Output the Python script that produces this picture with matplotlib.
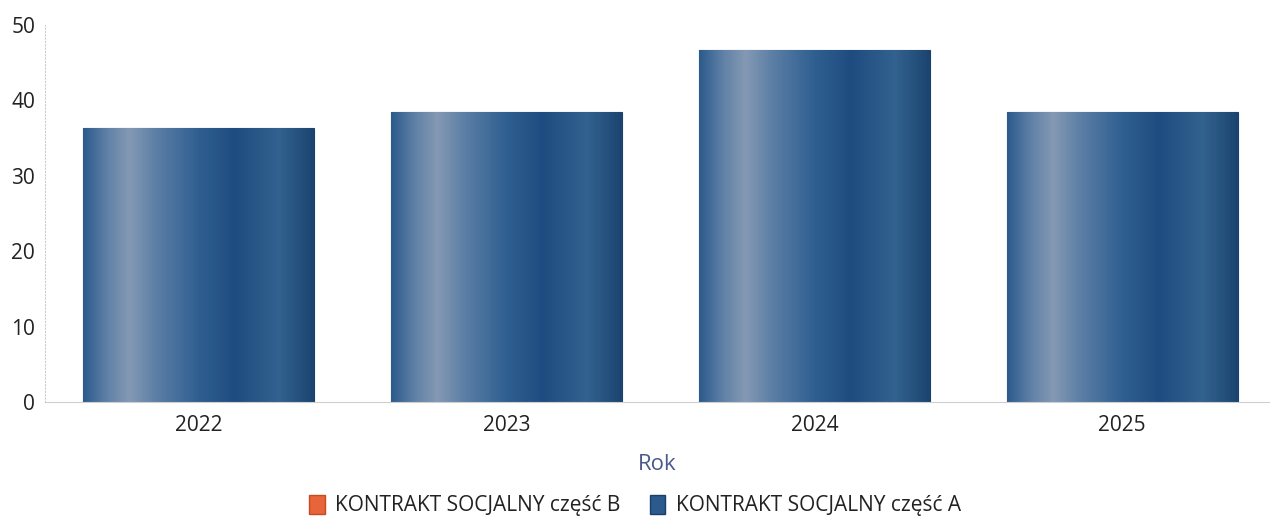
import numpy as np
import matplotlib.pyplot as plt
from matplotlib.colors import LinearSegmentedColormap
from matplotlib.patches import Patch

plt.rcParams['font.family'] = ['Open Sans', 'DejaVu Sans']

years = ['2022', '2023', '2024', '2025']
part_a = [36.3, 38.5, 46.7, 38.5]
part_b = [0, 0, 0, 0]

label_a = 'KONTRAKT SOCJALNY część A'
label_b = 'KONTRAKT SOCJALNY część B'

blue_cmap = LinearSegmentedColormap.from_list('blue', [
    (0.0, '#2b5a8c'), (0.1, '#5f80a6'), (0.2, '#8499b4'), (0.32, '#5b7ea5'),
    (0.5, '#2f5f91'), (0.66, '#1f4c80'), (0.85, '#32628f'), (1.0, '#1c4470')])


def gradient_fill(ax, bars, cmap):
    grad = np.linspace(0, 1, 256).reshape(1, -1)
    for b in bars:
        x0, y0 = b.get_x(), b.get_y()
        w, h = b.get_width(), b.get_height()
        if h <= 0:
            continue
        im = ax.imshow(grad, cmap=cmap, aspect='auto', extent=[x0, x0 + w, y0, y0 + h],
                       zorder=b.get_zorder() + 0.1, interpolation='bicubic')
        im.set_clip_path(b)
        b.set_facecolor('none')


fig = plt.figure(figsize=(12.7, 5.17), dpi=100)
ax = fig.add_axes([0.0354, 0.2224, 0.9646, 0.7292])

x = np.arange(len(years))
bars_a = ax.bar(x, part_a, width=0.75, color='#2b5a8c', edgecolor='#1c3f6a', linewidth=0.8, zorder=2)
bars_b = ax.bar(x, part_b, width=0.75, bottom=part_a, color='#e05a2a', linewidth=0, zorder=2)
gradient_fill(ax, bars_a, blue_cmap)

ax.set_xlim(-0.5, 3.48)
ax.set_ylim(0, 50)
ax.set_yticks([0, 10, 20, 30, 40, 50])
ax.set_xticks(x)
ax.set_xticklabels(years)
ax.tick_params(axis='both', length=0, labelsize=15, colors='#222222')
ax.tick_params(axis='y', pad=7)
ax.tick_params(axis='x', pad=9)

for side in ['top', 'right']:
    ax.spines[side].set_visible(False)
ax.spines['left'].set_linestyle((0, (1, 2)))
ax.spines['left'].set_color('#cccccc')
ax.spines['left'].set_linewidth(0.8)
ax.spines['bottom'].set_linestyle((0, (1, 1)))
ax.spines['bottom'].set_color('#cfcfcf')
ax.spines['bottom'].set_linewidth(0.8)

ax.set_xlabel('Rok', fontsize=16, color='#4a5a8a', labelpad=13)

handles = [Patch(facecolor='#e8643a', edgecolor='#c84a20', label=label_b),
           Patch(facecolor='#2b5a8c', edgecolor='#1c3f6a', label=label_a)]
fig.legend(handles=handles, loc='center', bbox_to_anchor=(0.5, 0.022), ncol=2, frameon=False,
           fontsize=15, handlelength=0.75, handleheight=1.0, handletextpad=0.5, columnspacing=1.4,
           labelcolor='#222222')

fig.savefig('out.png', dpi=100)
